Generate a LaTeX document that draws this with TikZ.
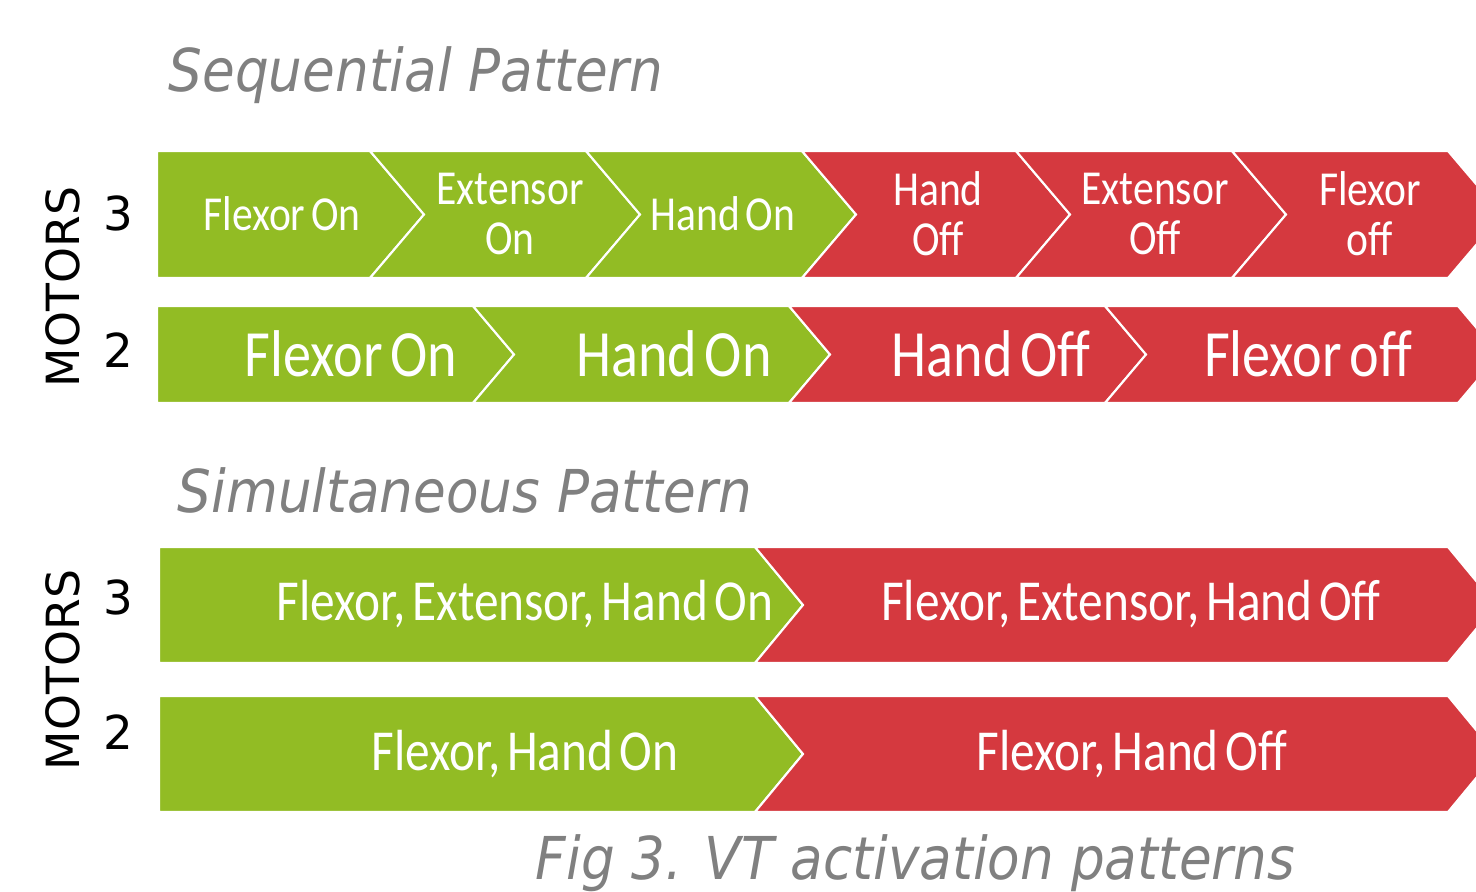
\documentclass[tikz,border=0pt]{standalone}
\usepackage{fontspec}
\setmainfont{Carlito}[FakeStretch=0.85, WordSpace=0.6]
\newfontfamily\titlefont{DejaVu Sans}[FakeStretch=0.9]
\newfontfamily\motorfont{DejaVu Sans}
\usetikzlibrary{positioning}

\definecolor{onGreen}{RGB}{146,188,36}
\definecolor{offRed}{RGB}{213,57,63}
\definecolor{capGray}{RGB}{128,128,128}

% one chevron: style, left x, right x, top y, bottom y, tip depth, notch depth (0 = flat)
\newcommand{\chev}[7]{%
  \filldraw[#1] (#2,#4) -- (#3,#4) -- ({#3+#6},{(#4+#5)/2}) -- (#3,#5)
    -- (#2,#5) -- ({#2+#7},{(#4+#5)/2}) -- cycle;}

\tikzset{
    onbar/.style={fill=onGreen, draw=white, line width=0.6pt}, % motor switched on
    offbar/.style={fill=offRed, draw=white, line width=0.6pt}, % motor switched off
    small/.style={text=white, align=center, inner sep=0pt,
        font=\fontsize{13.9}{14.2}\selectfont},
    big/.style={text=white, inner sep=0pt, font=\fontsize{18.8}{20}\selectfont},
    mid/.style={text=white, inner sep=0pt, font=\fontsize{16.5}{18}\selectfont},
    heading/.style={text=capGray, anchor=base west, inner sep=0pt,
        font=\titlefont\itshape\fontsize{16.8}{18}\selectfont},
    motors/.style={rotate=90, inner sep=0pt, font=\motorfont\fontsize{13}{15}\selectfont},
    count/.style={inner sep=0pt, font=\motorfont\fontsize{13.3}{15}\selectfont}
}

\begin{document}
\begin{tikzpicture}[x=0.01cm, y=-0.01cm]
    \useasboundingbox (0,0) rectangle (1476,891);
    \clip (0,0) rectangle (1476,891);

    \node[heading] (seqtitle) at (168,92) {Sequential Pattern};

    % sequential, 3 motors
    \chev{onbar}{157}{370}{151}{278}{54}{0}
    \chev{onbar}{370}{586}{151}{278}{54}{54}
    \chev{onbar}{586}{802}{151}{278}{54}{54}
    \chev{offbar}{802}{1016}{151}{278}{54}{54}
    \chev{offbar}{1016}{1232}{151}{278}{54}{54}
    \chev{offbar}{1232}{1448}{151}{278}{54}{54}
    \node[small] (s3a) at (282,214) {Flexor On};
    \node[small] (s3b) at (510,214) {Extensor\\On};
    \node[small] (s3c) at (723,214) {Hand On};
    \node[small] (s3d) at (938,214) {Hand\\Off};
    \node[small] (s3e) at (1155,214) {Extensor\\Off};
    \node[small] (s3f) at (1370,214) {Flexor\\off};

    % sequential, 2 motors
    \chev{onbar}{157}{473}{306}{403}{41}{0}
    \chev{onbar}{473}{789}{306}{403}{41}{41}
    \chev{offbar}{789}{1105}{306}{403}{41}{41}
    \chev{offbar}{1105}{1458}{306}{403}{41}{41}
    \node[big] (s2a) at (351,354) {Flexor On};
    \node[big] (s2b) at (674,354) {Hand On};
    \node[big] (s2c) at (991,354) {Hand Off};
    \node[big] (s2d) at (1308,354) {Flexor off};

    \node[motors] (mot1) at (63,287) {MOTORS};
    \node[count] (n13) at (118,213) {3};
    \node[count] (n12) at (118,350) {2};

    \node[heading] (simtitle) at (177,512) {Simultaneous Pattern};

    % simultaneous, 3 motors
    \chev{onbar}{159}{755}{547}{663}{48}{0}
    \chev{offbar}{755}{1448}{547}{663}{48}{48}
    \node[mid] (m3a) at (525,604) {Flexor, Extensor, Hand On};
    \node[mid] (m3b) at (1131,604) {Flexor, Extensor, Hand Off};

    % simultaneous, 2 motors
    \chev{onbar}{159}{755}{696}{812}{48}{0}
    \chev{offbar}{755}{1448}{696}{812}{48}{48}
    \node[mid] (m2a) at (525,754) {Flexor, Hand On};
    \node[mid] (m2b) at (1132,754) {Flexor, Hand Off};

    \node[motors] (mot2) at (63,670) {MOTORS};
    \node[count] (n23) at (118,597) {3};
    \node[count] (n22) at (118,732) {2};

    \node[heading] (caption) at (535,879) {Fig 3. VT activation patterns};
\end{tikzpicture}
\end{document}
